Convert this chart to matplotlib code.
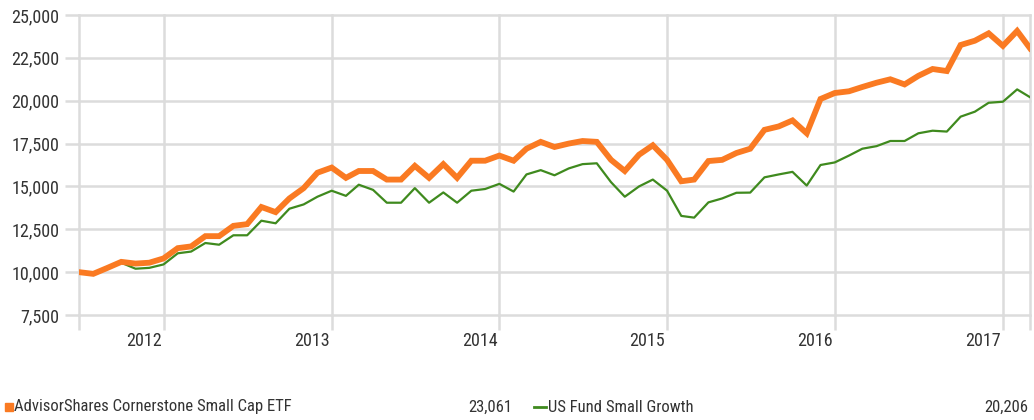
import numpy as np
import pandas as pd
import matplotlib
matplotlib.use("Agg")
import matplotlib.pyplot as plt
from matplotlib.lines import Line2D
from matplotlib.patches import Rectangle

plt.rcParams['font.family'] = ['Roboto Condensed', 'DejaVu Sans Condensed', 'Roboto']

# monthly growth of 10,000, Jul 2011 - Mar 2017
months = pd.date_range("2011-07-01", "2017-03-01", freq="MS")

etf = [10000, 9900, 10250, 10600, 10500, 10550, 10800, 11400, 11500, 12100,
       12100, 12700, 12800, 13800, 13500, 14300, 14900, 15800, 16100, 15500,
       15900, 15900, 15400, 15400, 16200, 15500, 16300, 15500, 16500, 16500,
       16800, 16500, 17200, 17600, 17300, 17500, 17650, 17600, 16550, 15900,
       16850, 17400, 16550, 15300, 15400, 16480, 16550, 16950, 17200, 18300,
       18500, 18850, 18100, 20100, 20450, 20550, 20800, 21050, 21250, 20950,
       21450, 21850, 21730, 23250, 23500, 23930, 23200, 24070, 23061]

fund = [10000, 9900, 10250, 10550, 10200, 10250, 10450, 11100, 11200, 11700,
        11600, 12150, 12150, 13000, 12850, 13700, 13950, 14400, 14750, 14450,
        15100, 14800, 14050, 14050, 14900, 14050, 14650, 14050, 14750, 14850,
        15150, 14700, 15700, 15950, 15650, 16050, 16300, 16350, 15250, 14400,
        15000, 15400, 14750, 13280, 13180, 14070, 14300, 14630, 14640, 15530,
        15700, 15850, 15050, 16250, 16400, 16800, 17200, 17350, 17650, 17650,
        18100, 18250, 18200, 19070, 19360, 19880, 19940, 20660, 20206]

series_names = ["AdvisorShares Cornerstone Small Cap ETF", "US Fund Small Growth"]
final_labels = ["23,061", "20,206"]
years = [2012, 2013, 2014, 2015, 2016, 2017]
yticks = [7500, 10000, 12500, 15000, 17500, 20000, 22500, 25000]

orange = "#FA7A22"
green = "#3F8A1E"
grid_c = "#DCDCDC"
text_c = "#333333"

fig = plt.figure(figsize=(10.34, 4.2), dpi=100)
ax = fig.add_axes([79 / 1034, 1 - 315 / 420, (1030 - 79) / 1034, 300 / 420])

ax.plot(months, fund, color=green, lw=1.6, zorder=3)
ax.plot(months, etf, color=orange, lw=4.2, zorder=4, solid_joinstyle="miter")

ax.set_xlim(months[0], months[-1])
ax.set_ylim(7500, 25000)

for s in ax.spines.values():
    s.set_visible(False)

ax.set_yticks(yticks)
ax.set_yticklabels([f"{v:,}" for v in yticks])
ax.yaxis.grid(True, color=grid_c, lw=1.8)
ax.tick_params(axis="y", length=10, width=1.8, color=grid_c, pad=4,
               labelsize=13, labelcolor=text_c)

year_dates = [pd.Timestamp(f"{y}-01-01") for y in years]
xt = [months[0]] + year_dates + [months[-1]]
ax.set_xticks(xt)
ax.set_xticklabels([])
ax.xaxis.grid(True, color=grid_c, lw=1.8)
ax.tick_params(axis="x", length=11, width=1.8, color=grid_c)
ax.set_axisbelow(True)
for gl in ax.get_ygridlines() + ax.get_xgridlines():
    gl.set_clip_on(False)

for y, d in zip(years, year_dates):
    ax.text(d - pd.Timedelta(days=43), -0.085, str(y), transform=ax.get_xaxis_transform(),
            ha="center", va="center", fontsize=13, color=text_c)

# legend row
ly = 1 - 407 / 420
fig.patches.append(Rectangle((5 / 1034, ly - 4 / 420), 8 / 1034, 8 / 420,
                             transform=fig.transFigure, color=orange))
fig.text(14 / 1034, ly, series_names[0], ha="left", va="center", fontsize=12, color=text_c)
fig.text(512 / 1034, ly, final_labels[0], ha="right", va="center", fontsize=12, color=text_c)
fig.lines.append(Line2D([534 / 1034, 546 / 1034], [ly, ly], transform=fig.transFigure,
                        color=green, lw=2))
fig.text(548 / 1034, ly, series_names[1], ha="left", va="center", fontsize=12, color=text_c)
fig.text(1028 / 1034, ly, final_labels[1], ha="right", va="center", fontsize=12, color=text_c)

fig.savefig("out.png", dpi=100)
